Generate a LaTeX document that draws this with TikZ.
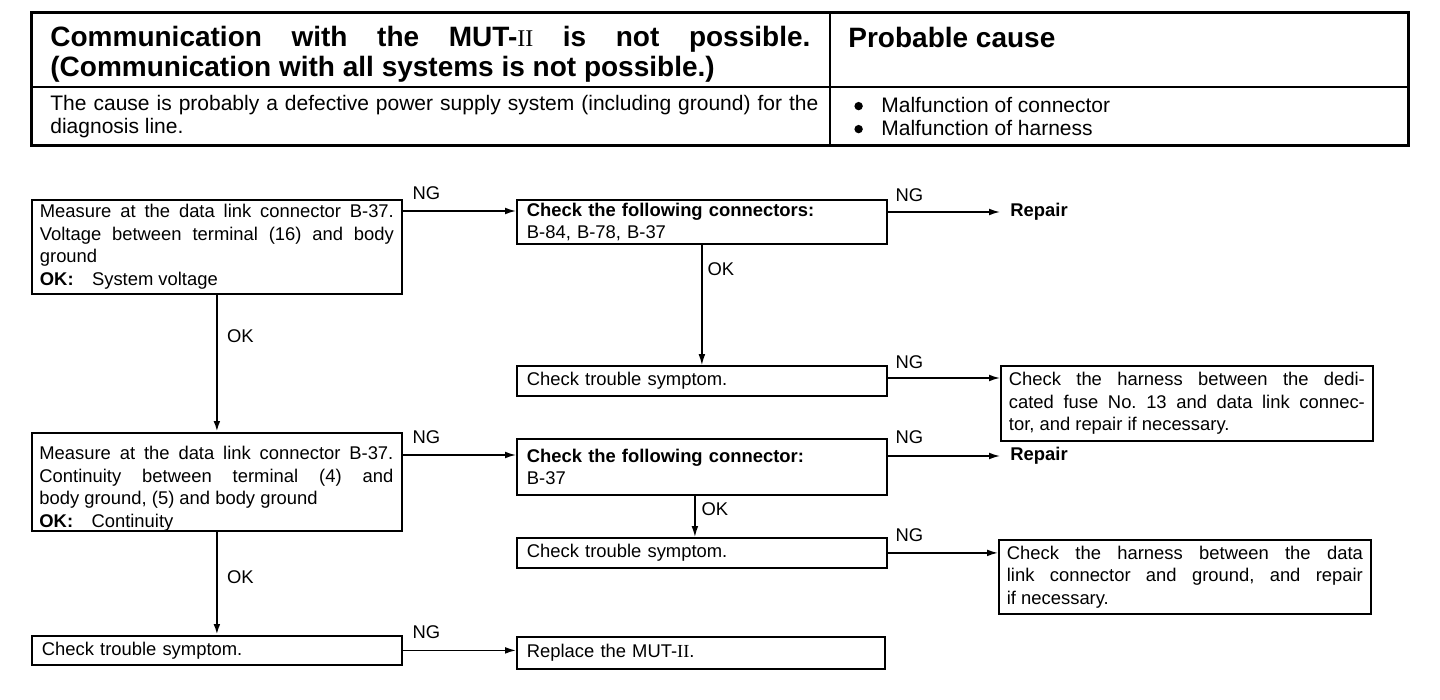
\documentclass[tikz,border=0pt]{standalone}
\usepackage{fontspec}
\setmainfont{Liberation Sans}
\newfontfamily\romfont{Liberation Serif}
\usetikzlibrary{arrows.meta}
\frenchspacing
\newcommand\bodyfnt{\fontsize{9.2}{11.3}\selectfont}
\newcommand\hdfnt{\fontsize{10.5}{11.5}\selectfont}
\newcommand\titlefnt{\fontsize{14}{15}\selectfont\bfseries}
\newcommand\bul{\makebox[13.5pt][l]{\tikz[baseline]\fill (2pt,3.2pt) circle (2.1pt);}}
\tikzset{
  box/.style={draw, line width=0.9pt, anchor=north west, inner xsep=4pt, inner ysep=1pt,
    font=\bodyfnt, align=justify, text width=177pt, minimum width=185pt},
  lbox/.style={box, align=left, inner xsep=5pt, text width=175pt},
  wbox/.style={box, text width=178pt, minimum width=186pt},
  btext/.style={anchor=north west, inner sep=0pt, font=\bodyfnt, align=justify, text width=177pt},
  arr/.style={-{Latex[length=5.5pt,width=3.4pt]}, line width=0.75pt},
  thk/.style={arr, line width=1.2pt},
  lab/.style={inner sep=0pt, font=\bodyfnt},
  ng/.style={lab, anchor=base west, pos=0},
  ok/.style={lab, anchor=west},
  rep/.style={anchor=west, inner sep=0pt, font=\bodyfnt\bfseries}
}
\begin{document}
\begin{tikzpicture}[x=0.5pt,y=-0.5pt]
\useasboundingbox (0,0) rectangle (1440,700);
% header table
\draw[line width=1.5pt] (31,13) rectangle (1408,146);
\draw[line width=1pt] (830,13) -- (830,146);
\draw[line width=1pt] (31,87) -- (1408,87);
\node[anchor=west, inner sep=0pt, text width=380pt, align=justify, font=\titlefnt] (title) at (50,54)
  {Communication with the MUT-{\mdseries\romfont\fontsize{12}{15}\selectfont II} is not possible.\linebreak (Communication with all systems is not possible.)};
\node[anchor=west, inner sep=0pt, font=\titlefnt] (prob) at (848,37) {Probable cause};
\node[anchor=west, inner sep=0pt, text width=384pt, align=justify, font=\hdfnt] (cause) at (50,117)
  {The cause is probably a defective power supply system (including ground) for the\linebreak diagnosis line.};
\node[anchor=west, inner sep=0pt, align=left, font=\hdfnt] (bullets) at (854,116.5)
  {\bul Malfunction of connector\\ \bul Malfunction of harness};
% flow boxes
\node[box, minimum height=47pt] (A) at (31,199)
  {Measure at the data link connector B-37.\linebreak Voltage between terminal (16) and body\linebreak ground\\ \textbf{OK:}\quad System voltage};
\node[lbox, minimum height=22pt] (B) at (516,199)
  {\textbf{Check the following connectors:}\\ B-84, B-78, B-37};
\node[rep] (R1) at (1010,212) {Repair};
\node[lbox, minimum height=15pt] (C) at (516,365) {Check trouble symptom.};
\node[wbox, minimum height=37.5pt] (D) at (1000,365)
  {Check the harness between the dedi-\linebreak cated fuse No. 13 and data link connec-\linebreak tor, and repair if necessary.};
\node[box, minimum height=49pt] (E) at (31,432) {};
\node[btext] (Et) at ([xshift=4pt,yshift=-7pt]E.north west)
  {Measure at the data link connector B-37.\linebreak Continuity between terminal (4) and\linebreak body ground, (5) and body ground\\ \textbf{OK:}\quad Continuity};
\node[lbox, minimum height=28pt] (F) at (516,438)
  {\textbf{Check the following connector:}\\ B-37};
\node[rep] (R2) at (1010,456) {Repair};
\node[lbox, minimum height=15pt] (G) at (516,537) {Check trouble symptom.};
\node[wbox, minimum height=37pt] (H) at (998,539)
  {Check the harness between the data\linebreak link connector and ground, and repair\linebreak if necessary.};
\node[lbox, minimum height=14.5pt] (I) at (31,635) {Check trouble symptom.};
\node[lbox, minimum height=16pt, minimum width=184pt, text width=174pt] (J) at (516,636)
  {Replace the MUT-{\romfont II}.};
% connectors
\coordinate (ab) at ([yshift=-6pt]B.north west);
\draw[arr] (A.east |- ab) -- node[ng, xshift=4.5pt, yshift=5.75pt] (ng1) {NG} (ab);
\draw[arr] (B.east |- R1) -- node[ng, xshift=3.5pt, yshift=5.25pt] (ng2) {NG} ([xshift=-5pt]R1.west);
\draw[arr, line width=0.6pt] (B.south) -- node[ok, pos=0.2, xshift=2.5pt] (ok1) {OK} (C.north);
\coordinate (cd) at ([yshift=-6.5pt]D.north west);
\draw[arr] (C.east |- cd) -- node[ng, xshift=3.5pt, yshift=4.75pt] (ng3) {NG} (cd);
\draw[thk] (A.south) -- node[ok, pos=0.3, xshift=4.5pt] (ok2) {OK} (E.north);
\coordinate (ef) at ([yshift=-8.5pt]F.north west);
\draw[arr] (E.east |- ef) -- node[ng, xshift=4.5pt, yshift=5.75pt] (ng4) {NG} (ef);
\draw[arr] (F.east |- R2) -- node[ng, xshift=3.5pt, yshift=6.25pt] (ng5) {NG} ([xshift=-5pt]R2.west);
\coordinate (fg) at ([xshift=-3.5pt]F.south);
\draw[arr] (fg) -- node[ok, pos=0.33, xshift=3pt] (ok3) {OK} (fg |- G.north);
\draw[arr] (G.east) -- node[ng, xshift=3.5pt, yshift=5.75pt] (ng6) {NG} (G.east -| H.west);
\draw[thk] (E.south) -- node[ok, pos=0.44, xshift=4.5pt] (ok4) {OK} (I.north);
\draw[arr] (I.east) -- node[ng, xshift=4.5pt, yshift=5.75pt] (ng7) {NG} (I.east -| J.west);
\end{tikzpicture}
\end{document}
